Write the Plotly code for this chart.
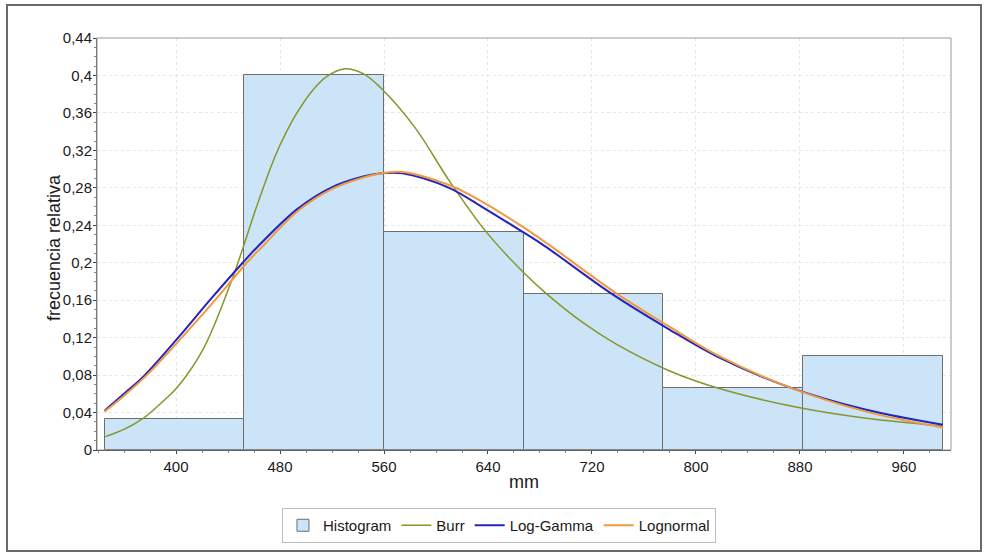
import plotly.graph_objects as go

# ---- data ----
bin_edges = [345, 452.5, 560, 667.5, 775, 882.5, 990]
hist_freq = [0.0333, 0.4, 0.2333, 0.1667, 0.0667, 0.1]

burr_x = [345, 360, 375, 390, 401, 421, 442, 452, 462, 476, 485, 493, 505, 516, 529, 544, 558, 584, 610, 638, 667, 684, 712, 738, 778, 816, 880, 931, 990]
burr_y = [0.014, 0.022, 0.034, 0.052, 0.067, 0.108, 0.178, 0.218, 0.260, 0.313, 0.340, 0.360, 0.384, 0.399, 0.407, 0.402, 0.386, 0.344, 0.288, 0.234, 0.190, 0.168, 0.137, 0.1135, 0.0855, 0.0665, 0.045, 0.0338, 0.0255]

lgam_x = [345, 360, 376, 401.7, 426, 451.3, 462, 493, 519, 544, 558, 574, 610, 635, 666, 684, 735, 778, 816, 870, 931, 990]
lgam_y = [0.042, 0.060, 0.080, 0.120, 0.160, 0.200, 0.216, 0.257, 0.280, 0.292, 0.2955, 0.2955, 0.280, 0.260, 0.2335, 0.2175, 0.167, 0.130, 0.100, 0.068, 0.043, 0.027]

lnorm_x = [345, 360, 377.5, 404.4, 430, 454.4, 468, 493, 519, 544, 558, 574, 610, 635, 666, 687, 739, 778, 816, 870, 931, 990]
lnorm_y = [0.041, 0.058, 0.080, 0.120, 0.160, 0.200, 0.2195, 0.2545, 0.278, 0.291, 0.2955, 0.297, 0.283, 0.2656, 0.239, 0.219, 0.167, 0.133, 0.1015, 0.068, 0.041, 0.024]

y_ticks = [0, 0.04, 0.08, 0.12, 0.16, 0.2, 0.24, 0.28, 0.32, 0.36, 0.4, 0.44]
y_tick_labels = ["0", "0,04", "0,08", "0,12", "0,16", "0,2", "0,24", "0,28", "0,32", "0,36", "0,4", "0,44"]
x_ticks = [400, 480, 560, 640, 720, 800, 880, 960]

centers = [(a + b) / 2 for a, b in zip(bin_edges[:-1], bin_edges[1:])]
widths = [b - a for a, b in zip(bin_edges[:-1], bin_edges[1:])]

fig = go.Figure()
fig.add_trace(go.Bar(x=centers, y=hist_freq, width=widths, name="Histogram",
                     marker=dict(color="#cce4f8", line=dict(color="#6e6e6e", width=1))))
fig.add_trace(go.Scatter(x=burr_x, y=burr_y, mode="lines", name="Burr",
                         line=dict(color="#86962a", width=1.5, shape="spline", smoothing=1.0)))
fig.add_trace(go.Scatter(x=lgam_x, y=lgam_y, mode="lines", name="Log-Gamma",
                         line=dict(color="#2424c0", width=2, shape="spline", smoothing=1.0)))
fig.add_trace(go.Scatter(x=lnorm_x, y=lnorm_y, mode="lines", name="Lognormal",
                         line=dict(color="#f09a3c", width=2, shape="spline", smoothing=1.0)))

L, R, T, B = 97, 951, 38, 450
W, H = 987, 556

def px2paper_x(px):
    return (px - L) / (R - L)

def px2paper_y(py):
    return (B - py) / (B - T)

fig.update_layout(
    width=W, height=H,
    margin=dict(l=L, r=W - R, t=T, b=H - B),
    paper_bgcolor="white", plot_bgcolor="white",
    font=dict(family="Liberation Sans, Arial, sans-serif", size=15, color="#1a1a1a"),
    bargap=0,
    showlegend=True,
    legend=dict(orientation="h", x=0.4707, xanchor="center", y=px2paper_y(508), yanchor="top",
                bordercolor="#bdbdbd", borderwidth=1, font=dict(size=15),
                itemwidth=30, tracegroupgap=0),
    xaxis=dict(range=[339.2, 996.2], tickvals=x_ticks, ticks="outside", ticklen=3,
               tickcolor="#444", showline=True, linecolor="#333", linewidth=1,
               tickfont=dict(size=15),
               showgrid=True, gridcolor="#e6e6e6", griddash="dot", zeroline=False,
               minor=dict(dtick=20, tick0=0, ticks="outside", ticklen=2, tickcolor="#888", showgrid=False),
               title=dict(text="mm", font=dict(size=18), standoff=1)),
    yaxis=dict(range=[0, 0.44], tickvals=y_ticks, ticktext=y_tick_labels, ticks="outside",
               ticklen=3, tickcolor="#444", showline=True, linecolor="#555", linewidth=1,
               tickfont=dict(size=15), ticklabelstandoff=-2,
               showgrid=True, gridcolor="#e6e6e6", griddash="dot", zeroline=False,
               minor=dict(dtick=0.01, tick0=0, ticks="outside", ticklen=2, tickcolor="#888", showgrid=False)),
)

# y axis title placed close to tick labels, as in the reference
fig.add_annotation(text="frecuencia relativa", xref="paper", yref="paper",
                   x=px2paper_x(54), y=px2paper_y(248), xanchor="center", yanchor="middle",
                   textangle=-90, showarrow=False, font=dict(size=18, color="#1a1a1a"))

# plot box (top/right edges)
fig.add_shape(type="rect", xref="paper", yref="paper", x0=0, y0=0, x1=1, y1=1,
              line=dict(color="#9a9a9a", width=1), layer="above")
# outer chart frame
fig.add_shape(type="rect", xref="paper", yref="paper",
              x0=px2paper_x(7), x1=px2paper_x(981), y0=px2paper_y(551), y1=px2paper_y(5),
              line=dict(color="#6a6a6a", width=2), layer="above")

fig.write_html("out.html", config={"displayModeBar": False},
               post_script="document.body.style.margin='0';")
